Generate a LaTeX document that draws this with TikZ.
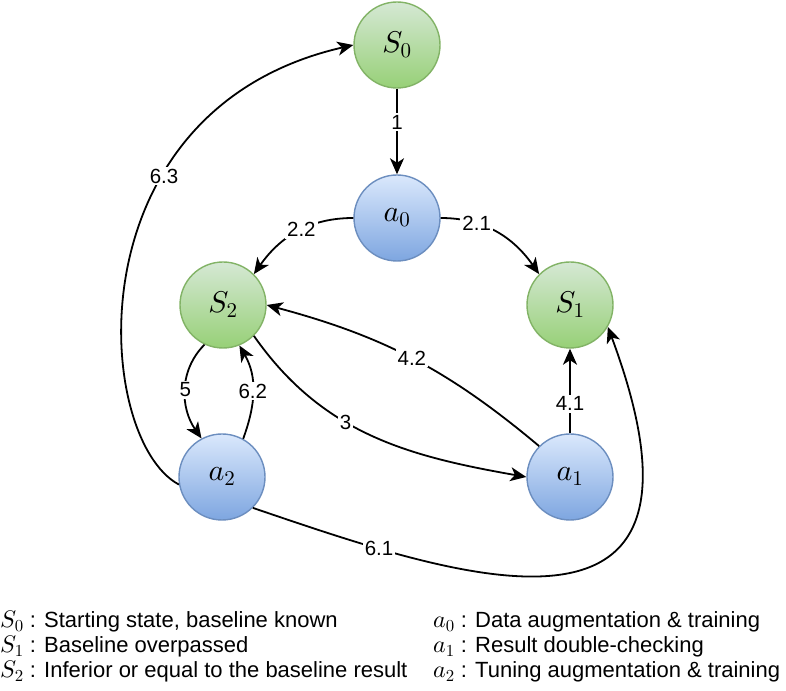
\documentclass[tikz,border=0pt]{standalone}
\usepackage{fontspec}
\newfontfamily\sansfont{Liberation Sans}
\usepackage{tikz}
\usetikzlibrary{arrows.meta}
% scalable math letters and digits
\DeclareFontShape{OML}{cmm}{m}{it}{<->cmmi10}{}
\DeclareFontShape{OT1}{cmr}{m}{n}{<->cmr10}{}
\definecolor{stategreen}{HTML}{97D077}
\definecolor{statetop}{HTML}{D5E8D4}
\definecolor{stateline}{HTML}{82B366}
\definecolor{actblue}{HTML}{7EA6E0}
\definecolor{acttop}{HTML}{DAE8FC}
\definecolor{actline}{HTML}{6C8EBF}
\newcommand{\lsym}[1]{{\fontsize{24}{26}\selectfont$#1$}}

\tikzset{
  state/.style={circle, minimum size=86pt, inner sep=0pt, line width=1.4pt,
    draw=stateline, top color=statetop, bottom color=stategreen,
    font=\fontsize{30}{36}\selectfont},
  action/.style={state, draw=actline, top color=acttop, bottom color=actblue},
  edge/.style={line width=1.8pt, -{Stealth[length=16pt,width=14pt,inset=4.5pt]}},
  elabel/.style={fill=white, inner sep=2pt, font=\sansfont\fontsize{20.5}{24}\selectfont},
  legend/.style={anchor=west, inner sep=0pt, font=\sansfont\fontsize{22}{26}\selectfont},
}

\begin{document}
\begin{tikzpicture}[x=1pt, y=1pt]
        \useasboundingbox (0,0) rectangle (786,690);

        % ---- STATES AND ACTIONS ----
        \node[state]  (S0) at (397, 645) {$S_0$};
        \node[action] (a0) at (397, 472) {$a_0$};
        \node[state]  (S2) at (223, 385) {$S_2$};
        \node[state]  (S1) at (570, 385) {$S_1$};
        \node[action] (a2) at (222, 213) {$a_2$};
        \node[action] (a1) at (570, 213) {$a_1$};

        % ---- TRANSITIONS ----
        \draw[edge] (S0) -- node[elabel, pos=0.39] (l1) {1} (a0);
        \draw[edge] (a0.west) to[out=180, in=55] node[elabel, pos=0.45] (l22) {2.2} (S2.45);
        \draw[edge] (a0.east) to[out=0, in=125] node[elabel, pos=0.3] (l21) {2.1} (S1.135);
        \draw[edge] (S2.-115) to[out=-135, in=125] node[elabel] (l5) {5} (a2.118);
        \draw[edge] (a2.61) to[out=70, in=-60] node[elabel] (l62) {6.2} (S2.-68);
        \draw[edge] (S2.-45) to[out=-55, in=170] node[elabel, pos=0.4] (l3) {3} (a1.west);
        \draw[edge] (a1.135) to[out=140, in=-15] node[elabel, pos=0.5] (l42) {4.2} (S2.east);
        \draw[edge] (a1) -- node[elabel, pos=0.35] (l41) {4.1} (S1);
        \draw[edge] (a2.190) .. controls +(-85,45) and +(-284,-65) .. node[elabel, pos=0.67] (l63) {6.3} (S0.west);
        \draw[edge] (a2.-45) .. controls +(200,-68) and +(130,-350) .. node[elabel, pos=0.2] (l61) {6.1} (S1.-30);

        % ---- LEGEND ----
        \node[legend] (legS0) at (0, 68) {\lsym{S_0} : Starting state, baseline known};
        \node[legend] (legS1) at (0, 43) {\lsym{S_1} : Baseline overpassed};
        \node[legend] (legS2) at (0, 18) {\lsym{S_2} : Inferior or equal to the baseline result};
        \node[legend] (lega0) at (433, 68) {\lsym{a_0} : Data augmentation \& training};
        \node[legend] (lega1) at (433, 43) {\lsym{a_1} : Result double-checking};
        \node[legend] (lega2) at (433, 18) {\lsym{a_2} : Tuning augmentation \& training};
      \end{tikzpicture}
\end{document}
